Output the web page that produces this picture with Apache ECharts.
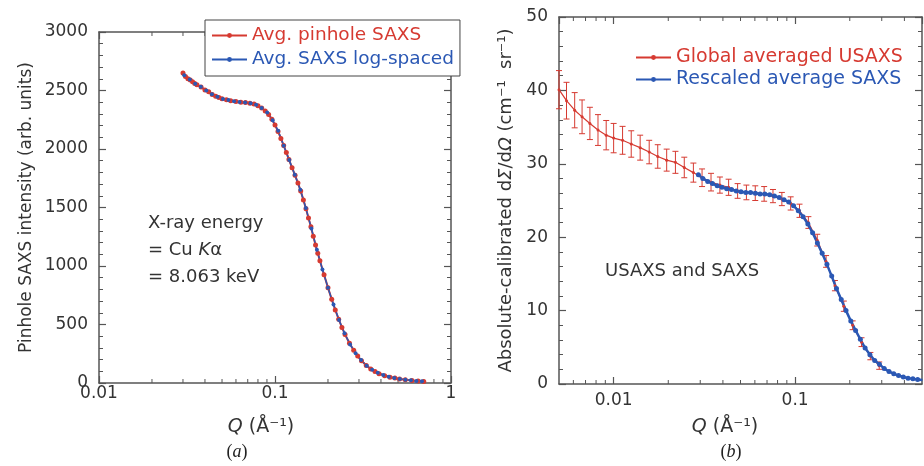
<!DOCTYPE html>
<html>
<head>
<meta charset="utf-8">
<script src="https://cdn.jsdelivr.net/npm/echarts@6/dist/echarts.min.js"></script>
<style>
  html, body { margin: 0; padding: 0; background: #fff; }
  #chart { width: 924px; height: 466px; }
</style>
</head>
<body>
<div id="chart"></div>
<script>
// (a) pinhole SAXS, linear-ish q spacing
const pinholeQ = [0.030, 0.031, 0.032, 0.033, 0.034, 0.035, 0.036, 0.038, 0.040, 0.042, 0.044, 0.046, 0.048, 0.050,
  0.053, 0.056, 0.060, 0.064, 0.068, 0.072, 0.076, 0.080, 0.084, 0.088, 0.092, 0.096, 0.100, 0.104, 0.108, 0.112,
  0.116, 0.120, 0.125, 0.130, 0.135, 0.140, 0.145, 0.150, 0.155, 0.160, 0.165, 0.170, 0.175, 0.180, 0.190, 0.200,
  0.210, 0.220, 0.230, 0.240, 0.250, 0.265, 0.280, 0.295, 0.310, 0.330, 0.350, 0.370, 0.390, 0.420, 0.450, 0.480,
  0.510, 0.550, 0.600, 0.650, 0.700];
const pinholeI = [2650, 2620, 2600, 2590, 2575, 2560, 2550, 2530, 2505, 2490, 2465, 2450, 2440, 2430,
  2420, 2412, 2405, 2400, 2397, 2392, 2385, 2370, 2350, 2325, 2295, 2255, 2205, 2150, 2090, 2030,
  1970, 1910, 1840, 1775, 1710, 1640, 1565, 1490, 1410, 1335, 1255, 1180, 1110, 1045, 925, 815,
  715, 625, 545, 475, 415, 340, 280, 230, 190, 150, 120, 98, 80, 62, 50, 42,
  35, 28, 22, 17, 13];

// (a) log-spaced SAXS
const logQ = [0.0305, 0.0328, 0.0352, 0.0379, 0.0407, 0.0438, 0.0471, 0.0506, 0.0544, 0.0585, 0.0629, 0.0676,
  0.0727, 0.0781, 0.0840, 0.0903, 0.0970, 0.1043, 0.1121, 0.1205, 0.1296, 0.1393, 0.1497, 0.1610, 0.1730,
  0.1860, 0.2000, 0.2150, 0.2311, 0.2484, 0.2670, 0.2871, 0.3086, 0.3317, 0.3566, 0.3834, 0.4121, 0.4430,
  0.4762, 0.5119, 0.5503, 0.5916, 0.6360, 0.6837];
const logI = [2630, 2595, 2558, 2532, 2500, 2468, 2446, 2428, 2418, 2408, 2401, 2397,
  2390, 2378, 2350, 2312, 2245, 2155, 2028, 1905, 1780, 1652, 1495, 1320, 1138,
  970, 815, 670, 538, 425, 330, 255, 196, 148, 114, 88, 68, 53,
  43, 35, 28, 23, 18, 14];

// (b) global averaged USAXS with error bars
const usaxsQ = [0.0050, 0.0055, 0.0061, 0.0067, 0.0074, 0.0082, 0.0091, 0.0100, 0.0112, 0.0125, 0.0140, 0.0157,
  0.0175, 0.0196, 0.0219, 0.0245, 0.0275, 0.0307, 0.0344, 0.0385, 0.0430, 0.0482, 0.0539, 0.0603, 0.0675,
  0.0755, 0.0845, 0.0945, 0.1057, 0.1183, 0.1324, 0.1481, 0.1657, 0.1854, 0.2074, 0.2321, 0.2597, 0.2906];
const usaxsI = [40.1, 38.6, 37.3, 36.4, 35.5, 34.6, 33.9, 33.5, 33.2, 32.7, 32.2, 31.6,
  31.0, 30.5, 30.2, 29.5, 28.8, 28.1, 27.5, 27.1, 26.8, 26.3, 26.1, 26.0, 25.9,
  25.6, 25.2, 24.6, 23.6, 22.0, 19.6, 16.7, 13.4, 10.6, 8.0, 5.7, 3.8, 2.5];
const usaxsErr = [2.6, 2.5, 2.4, 2.3, 2.2, 2.1, 2.0, 2.0, 1.9, 1.8, 1.7, 1.6,
  1.6, 1.5, 1.5, 1.4, 1.3, 1.2, 1.2, 1.1, 1.1, 1.0, 1.0, 1.0, 1.0,
  0.9, 0.9, 0.9, 0.9, 0.8, 0.8, 0.8, 0.7, 0.7, 0.6, 0.6, 0.5, 0.5];

// (b) rescaled average SAXS
const saxsQ = [0.0293, 0.0310, 0.0330, 0.0350, 0.0372, 0.0395, 0.0420, 0.0446, 0.0474, 0.0503, 0.0535, 0.0568,
  0.0604, 0.0641, 0.0681, 0.0724, 0.0769, 0.0817, 0.0868, 0.0922, 0.0980, 0.1041, 0.1106, 0.1175, 0.1248,
  0.1326, 0.1409, 0.1497, 0.1590, 0.1690, 0.1795, 0.1907, 0.2026, 0.2153, 0.2287, 0.2430, 0.2582, 0.2743,
  0.2914, 0.3096, 0.3290, 0.3495, 0.3713, 0.3945, 0.4191, 0.4453, 0.4731, 0.5026];
const saxsI = [28.5, 28.0, 27.6, 27.3, 27.0, 26.8, 26.6, 26.5, 26.3, 26.2, 26.1, 26.1,
  26.0, 25.9, 25.9, 25.8, 25.6, 25.4, 25.1, 24.8, 24.3, 23.6, 22.8, 21.8, 20.6,
  19.2, 17.8, 16.3, 14.7, 13.0, 11.5, 10.0, 8.6, 7.3, 6.1, 4.9, 4.0, 3.2,
  2.7, 2.1, 1.7, 1.4, 1.15, 0.95, 0.8, 0.7, 0.6, 0.55];

// minor tick positions for the log axes
const minorTicksA = [0.02, 0.03, 0.04, 0.05, 0.06, 0.07, 0.08, 0.09, 0.2, 0.3, 0.4, 0.5, 0.6, 0.7, 0.8, 0.9];
const minorTicksB = [0.006, 0.007, 0.008, 0.009, 0.02, 0.03, 0.04, 0.05, 0.06, 0.07, 0.08, 0.09, 0.2, 0.3, 0.4];

const red = '#d63a31';
const blue = '#2b58b4';
const axisColor = '#555';
const txt = '#333';
const font = 'DejaVu Sans';

function pairs(xs, ys) {
  return xs.map((x, i) => [x, ys[i]]);
}

function xAxisCfg(grid, pos, min, max, labels, margin) {
  return {
    type: 'log', logBase: 10, gridIndex: grid, position: pos, min: min, max: max,
    axisLine: { onZero: false, lineStyle: { color: axisColor, width: 1.5 } },
    axisTick: { inside: true, length: 7, lineStyle: { color: axisColor, width: 1.2 } },
    axisLabel: { show: labels, fontSize: 17, color: txt, fontFamily: font, margin: margin || 4,
      showMinLabel: min === 0.01, showMaxLabel: max === 1 },
    splitLine: { show: false }
  };
}

function yAxisCfg(grid, pos, max, interval, labels, name) {
  return {
    type: 'value', gridIndex: grid, position: pos, min: 0, max: max, interval: interval,
    axisLine: { show: true, onZero: false, lineStyle: { color: axisColor, width: 1.5 } },
    axisTick: { show: true, inside: true, length: 7, lineStyle: { color: axisColor, width: 1.2 } },
    minorTick: { show: true, splitNumber: 5, length: 4, lineStyle: { color: axisColor, width: 1 } },
    axisLabel: { show: labels, fontSize: 17, color: txt, fontFamily: font, margin: 11,
      formatter: v => String(v) },
    splitLine: { show: false },
    name: name || '',
    nameLocation: 'middle'
  };
}

function logTicks(xIdx, yIdx, ticks, ymax) {
  return {
    type: 'custom', xAxisIndex: xIdx, yAxisIndex: yIdx, silent: true, z: 1,
    data: ticks.map(q => [q, 0, ymax]),
    encode: { x: 0, y: [1, 2] },
    renderItem: function (params, api) {
      const b = api.coord([api.value(0), api.value(1)]);
      const t = api.coord([api.value(0), api.value(2)]);
      const st = { stroke: axisColor, lineWidth: 1 };
      return { type: 'group', children: [
        { type: 'line', shape: { x1: b[0], y1: b[1], x2: b[0], y2: b[1] - 4 }, style: st },
        { type: 'line', shape: { x1: t[0], y1: t[1], x2: t[0], y2: t[1] + 4 }, style: st }
      ] };
    }
  };
}

const chart = echarts.init(document.getElementById('chart'));

const yA = yAxisCfg(0, 'left', 3000, 500, true, 'Pinhole SAXS intensity (arb. units)');
yA.nameGap = 64;
yA.nameTextStyle = { fontSize: 17, color: txt, fontFamily: font };

const yB = yAxisCfg(1, 'left', 50, 10, true,
  '{n|Absolute-calibrated d}{i|Σ}{n|/d}{i|Ω}{n| (cm⁻¹  sr⁻¹)}');
yB.nameGap = 44;
yB.nameTextStyle = {
  fontSize: 18, color: txt, fontFamily: font,
  rich: {
    n: { fontSize: 18, color: txt, fontFamily: font },
    i: { fontSize: 18, color: txt, fontFamily: font, fontStyle: 'italic' }
  }
};

const option = {
  animation: false,
  backgroundColor: '#fff',
  grid: [
    { left: 99, top: 32, width: 352, height: 351 },
    { left: 559, top: 17, width: 363, height: 367 }
  ],
  xAxis: [
    xAxisCfg(0, 'bottom', 0.01, 1, true, 2),
    xAxisCfg(0, 'top', 0.01, 1, false),
    xAxisCfg(1, 'bottom', 0.005, 0.5, true, 8),
    xAxisCfg(1, 'top', 0.005, 0.5, false)
  ],
  yAxis: [
    yA,
    yAxisCfg(0, 'right', 3000, 500, false),
    yB,
    yAxisCfg(1, 'right', 50, 10, false)
  ],
  legend: [{
    data: [
      { name: 'Avg. pinhole SAXS', textStyle: { color: red } },
      { name: 'Avg. SAXS log-spaced', textStyle: { color: blue } }
    ],
    orient: 'vertical', left: 205, top: 20,
    itemWidth: 35, itemHeight: 6, itemGap: 5,
    padding: [6, 6, 7, 6],
    borderColor: '#444', borderWidth: 1, backgroundColor: '#fff',
    textStyle: { fontSize: 18.5, fontFamily: font }
  }, {
    data: [
      { name: 'Global averaged USAXS', textStyle: { color: red } },
      { name: 'Rescaled average SAXS', textStyle: { color: blue } }
    ],
    orient: 'vertical', left: 630, top: 43,
    itemWidth: 35, itemHeight: 6, itemGap: 3,
    textStyle: { fontSize: 19, fontFamily: font }
  }],
  series: [
    logTicks(0, 0, minorTicksA, 3000),
    logTicks(2, 2, minorTicksB, 50),
    {
      name: 'Avg. pinhole SAXS', type: 'line', xAxisIndex: 0, yAxisIndex: 0,
      data: pairs(pinholeQ, pinholeI),
      symbol: 'circle', symbolSize: 5, showSymbol: true,
      lineStyle: { color: red, width: 2 }, itemStyle: { color: red }
    },
    {
      name: 'Avg. SAXS log-spaced', type: 'line', xAxisIndex: 0, yAxisIndex: 0,
      data: pairs(logQ, logI),
      symbol: 'circle', symbolSize: 4, showSymbol: true,
      lineStyle: { color: blue, width: 1.5 }, itemStyle: { color: blue }
    },
    {
      type: 'custom', xAxisIndex: 2, yAxisIndex: 2, z: 2,
      data: usaxsQ.map((q, i) => [q, usaxsI[i] - usaxsErr[i], usaxsI[i] + usaxsErr[i]]),
      encode: { x: 0, y: [1, 2] },
      renderItem: function (params, api) {
        const lo = api.coord([api.value(0), api.value(1)]);
        const hi = api.coord([api.value(0), api.value(2)]);
        const c = 3;
        const st = { stroke: red, lineWidth: 1 };
        return { type: 'group', children: [
          { type: 'line', shape: { x1: lo[0], y1: lo[1], x2: hi[0], y2: hi[1] }, style: st },
          { type: 'line', shape: { x1: lo[0] - c, y1: lo[1], x2: lo[0] + c, y2: lo[1] }, style: st },
          { type: 'line', shape: { x1: hi[0] - c, y1: hi[1], x2: hi[0] + c, y2: hi[1] }, style: st }
        ] };
      }
    },
    {
      name: 'Global averaged USAXS', type: 'line', xAxisIndex: 2, yAxisIndex: 2,
      data: pairs(usaxsQ, usaxsI),
      symbol: 'circle', symbolSize: 3, showSymbol: true,
      lineStyle: { color: red, width: 1.2 }, itemStyle: { color: red }
    },
    {
      name: 'Rescaled average SAXS', type: 'line', xAxisIndex: 2, yAxisIndex: 2,
      data: pairs(saxsQ, saxsI),
      symbol: 'circle', symbolSize: 5, showSymbol: true,
      lineStyle: { color: blue, width: 2.5 }, itemStyle: { color: blue }
    }
  ],
  graphic: [
    {
      type: 'text', left: 148, top: 210,
      style: {
        text: 'X-ray energy\n{n|= Cu }{i|K}{n|α}\n= 8.063 keV',
        font: '18px "DejaVu Sans"', fill: txt, lineHeight: 27,
        rich: {
          n: { fontSize: 18, fontFamily: font, fill: txt, lineHeight: 27 },
          i: { fontSize: 18, fontFamily: font, fill: txt, fontStyle: 'italic', lineHeight: 27 }
        }
      }
    },
    {
      type: 'text', left: 605, top: 262,
      style: { text: 'USAXS and SAXS', font: '18px "DejaVu Sans"', fill: txt }
    },
    {
      type: 'text', x: 261, y: 427,
      style: {
        text: '{i|Q} (Å⁻¹)', align: 'center', verticalAlign: 'middle',
        font: '19px "DejaVu Sans"', fill: txt,
        rich: { i: { fontSize: 19, fontFamily: font, fill: txt, fontStyle: 'italic' } }
      }
    },
    {
      type: 'text', x: 725, y: 427,
      style: {
        text: '{i|Q} (Å⁻¹)', align: 'center', verticalAlign: 'middle',
        font: '19px "DejaVu Sans"', fill: txt,
        rich: { i: { fontSize: 19, fontFamily: font, fill: txt, fontStyle: 'italic' } }
      }
    },
    {
      type: 'text', x: 237, y: 452,
      style: {
        text: '({i|a})', align: 'center', verticalAlign: 'middle',
        font: '18px "Liberation Serif"', fill: '#222',
        rich: { i: { fontSize: 18, fontFamily: 'Liberation Serif', fill: '#222', fontStyle: 'italic' } }
      }
    },
    {
      type: 'text', x: 731, y: 452,
      style: {
        text: '({i|b})', align: 'center', verticalAlign: 'middle',
        font: '18px "Liberation Serif"', fill: '#222',
        rich: { i: { fontSize: 18, fontFamily: 'Liberation Serif', fill: '#222', fontStyle: 'italic' } }
      }
    }
  ]
};

chart.setOption(option);
</script>
</body>
</html>
